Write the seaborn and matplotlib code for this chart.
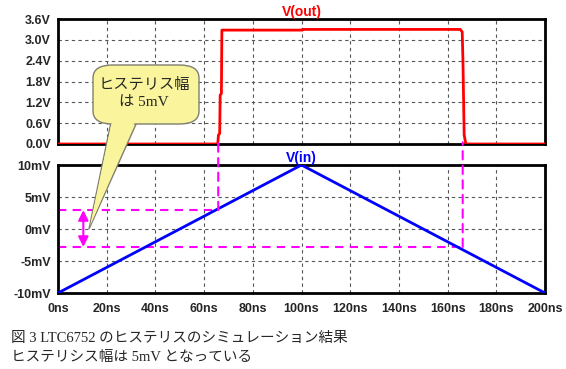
import numpy as np
import pandas as pd
import matplotlib
matplotlib.use("Agg")
import matplotlib.pyplot as plt
import seaborn as sns
from matplotlib.patches import FancyBboxPatch, Polygon, ConnectionPatch

# ---- data ----
t_in = [0, 100, 200]                 # ns
v_in = [-10, 10, -10]                # mV
t_out = [0, 65.6, 65.9, 66.4, 66.6, 67.1, 67.3, 100.3, 100.5, 165.2, 166.0, 166.3, 166.8, 167.5, 200]
v_out = [0, 0, 0.26, 0.30, 1.41, 1.45, 3.28, 3.28, 3.30, 3.30, 3.23, 2.40, 0.26, 0.0, 0]
x_ticks = [0, 20, 40, 60, 80, 100, 120, 140, 160, 180, 200]
x_labels = [f"{v}ns" for v in x_ticks]
y_top_ticks = [0.0, 0.6, 1.2, 1.8, 2.4, 3.0, 3.6]
y_top_labels = [f"{v:.1f}V" for v in y_top_ticks]
y_bot_ticks = [-10, -5, 0, 5, 10]
y_bot_labels = [f"{v}mV" for v in y_bot_ticks]
th_hi = 2.95       # mV, upper threshold
th_lo = -2.8       # mV, lower threshold
t_rise = 65.8      # ns
t_fall = 166.2     # ns
t_arrow = 10.4     # ns
callout_text = "ヒステリス幅\nは 5mV"
caption1 = "図 3 LTC6752 のヒステリスのシミュレーション結果"
caption2 = "ヒステリシス幅は 5mV となっている"

sns.set_style("white")
plt.rcParams['font.family'] = ['Liberation Sans', 'DejaVu Sans']

W, H = 566, 369
fig = plt.figure(figsize=(W / 100, H / 100), dpi=100)
fig.patch.set_facecolor("white")

def fx(x):
    return x / W

def fy(y):
    return 1 - y / H

ax1 = fig.add_axes([fx(58), fy(144), fx(545) - fx(58), fy(19) - fy(144)])
ax2 = fig.add_axes([fx(58), fy(293), fx(545) - fx(58), fy(165) - fy(293)])

df_out = pd.DataFrame({"t": t_out, "v": v_out})
df_in = pd.DataFrame({"t": t_in, "v": v_in})

sns.lineplot(data=df_out, x="t", y="v", ax=ax1, color="#FF0000", linewidth=2, sort=False, zorder=3)
sns.lineplot(data=df_in, x="t", y="v", ax=ax2, color="#0000FF", linewidth=2, sort=False, zorder=3)

tick_font = dict(fontweight="bold", fontsize=9)
for ax in (ax1, ax2):
    ax.set_xlim(0, 200)
    ax.set_xticks(x_ticks)
    ax.grid(True, color="#555555", linestyle=(0, (3, 3)), linewidth=0.8)
    for s in ax.spines.values():
        s.set_linewidth(2)
        s.set_color("black")
    ax.set_xlabel("")
    ax.set_ylabel("")
    ax.tick_params(axis="both", direction="out", length=4, width=1.5, color="black", pad=1)

ax1.set_ylim(0, 3.6)
ax1.set_yticks(y_top_ticks)
ax1.set_yticklabels(y_top_labels, **tick_font)
ax1.set_xticklabels([])
ax1.tick_params(axis="x", length=0)

ax2.set_ylim(-10, 10)
ax2.set_yticks(y_bot_ticks)
ax2.set_yticklabels(y_bot_labels, **tick_font)
ax2.set_xticklabels(x_labels, **tick_font)
ax2.tick_params(axis="x", length=5, pad=2)

ax1.set_title("V(out)", color="#FF0000", fontweight="bold", fontsize=10, pad=2)
ax2.set_title("V(in)", color="#0000FF", fontweight="bold", fontsize=10, pad=2)

mag = "#FF00FF"
dash = (0, (4, 3))
ax2.plot([0, t_rise], [th_hi, th_hi], color=mag, linestyle=dash, linewidth=1.5, zorder=2)
ax2.plot([0, t_fall], [th_lo, th_lo], color=mag, linestyle=dash, linewidth=1.5, zorder=2)
for t, th in ((t_rise, th_hi), (t_fall, th_lo)):
    cp = ConnectionPatch(xyA=(t, th), coordsA=ax2.transData, xyB=(t, 0.05), coordsB=ax1.transData,
                         color=mag, linestyle=dash, linewidth=1.5, zorder=2)
    fig.add_artist(cp)
ax2.annotate("", xy=(t_arrow, th_lo), xytext=(t_arrow, th_hi),
             arrowprops=dict(arrowstyle="<|-|>,head_length=0.6,head_width=0.3", color=mag, lw=1.5,
                             shrinkA=0, shrinkB=0), zorder=4)

# callout bubble
yellow = "#FAF59C"
edge = "#7F7F6F"
tail = [(fx(111), fy(122)), (fx(89), fy(229)), (fx(137), fy(122))]
fig.add_artist(Polygon(tail, closed=True, transform=fig.transFigure, facecolor=yellow,
                       edgecolor=edge, linewidth=1, zorder=10))
box = FancyBboxPatch((fx(93), fy(124)), fx(199) - fx(93), fy(65) - fy(124),
                     boxstyle="round,pad=0,rounding_size=0.035", transform=fig.transFigure,
                     facecolor=yellow, edgecolor=edge, linewidth=1, zorder=11)
fig.add_artist(box)
tail_in = [(fx(112.2), fy(120)), (fx(90), fy(226)), (fx(135.8), fy(120))]
fig.add_artist(Polygon(tail_in, closed=True, transform=fig.transFigure, facecolor=yellow,
                       edgecolor="none", zorder=12))
mixed = ['Liberation Serif', 'Noto Sans CJK JP']
fig.text(fx(144), fy(94), callout_text, ha="center", va="center", fontsize=11,
         family=mixed, linespacing=1.4, zorder=13)

fig.text(fx(11), fy(338), caption1, ha="left", va="center", fontsize=10.5, family=mixed)
fig.text(fx(11), fy(357), caption2, ha="left", va="center", fontsize=10.5, family=mixed)

fig.savefig("out.png", dpi=100)
